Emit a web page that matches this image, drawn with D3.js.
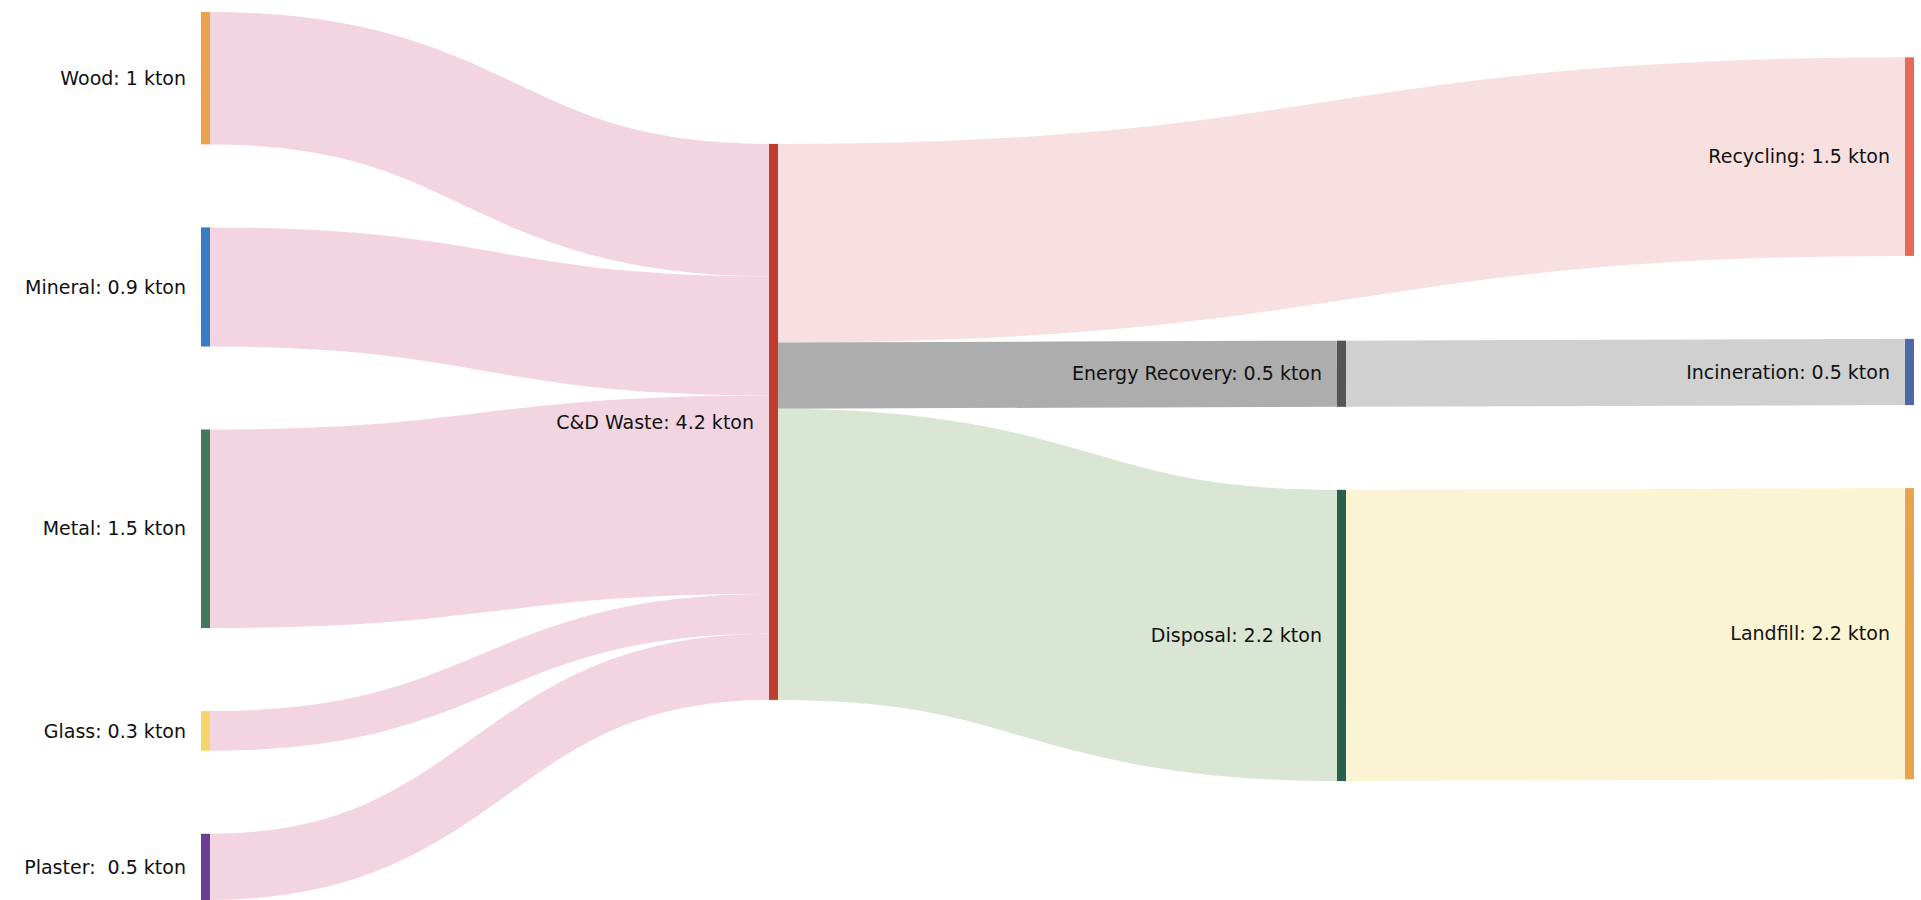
<!DOCTYPE html>
<html>
  <head>
    <title>C&amp;D waste sankey</title>
    <meta charset="utf-8">
    <style>
      body {
        padding: 0;
        margin: 0;
        background: #fff;
      }
      svg text {
        font-family: 'DejaVu Sans', sans-serif;
        font-size: 19px;
        fill: #111;
        white-space: pre;
      }
    </style>
  </head>
  <body>
    <div id="chart"></div>
    <script src="https://d3js.org/d3.v7.min.js"></script>
    <script>
      // nodes
      var nodeNames = ["Wood", "Mineral", "Metal", "Glass", "Plaster", "C&D Waste",
                       "Recycling", "Energy Recovery", "Disposal", "Incineration", "Landfill"];
      var nodeLabels = ["Wood: 1 kton", "Mineral: 0.9 kton", "Metal: 1.5 kton", "Glass: 0.3 kton",
                        "Plaster:  0.5 kton", "C&D Waste: 4.2 kton", "Recycling: 1.5 kton",
                        "Energy Recovery: 0.5 kton", "Disposal: 2.2 kton", "Incineration: 0.5 kton",
                        "Landfill: 2.2 kton"];
      // links (kton)
      var linkSources = ["Wood", "Mineral", "Metal", "Glass", "Plaster",
                         "C&D Waste", "C&D Waste", "C&D Waste", "Energy Recovery", "Disposal"];
      var linkTargets = ["C&D Waste", "C&D Waste", "C&D Waste", "C&D Waste", "C&D Waste",
                         "Recycling", "Energy Recovery", "Disposal", "Incineration", "Landfill"];
      var linkValues = [1, 0.9, 1.5, 0.3, 0.5, 1.5, 0.5, 2.2, 0.5, 2.2];

      // colours
      var nodeColors = ["#e9a34c", "#3b7bc6", "#3f7a5c", "#f6d66a", "#6c3f92", "#c13e2e",
                        "#e8695a", "#555555", "#285f4d", "#4b6aa8", "#e9a34c"];
      var linkColors = ["#f3d5e1", "#f3d5e1", "#f3d5e1", "#f3d5e1", "#f3d5e1",
                        "#f9e0e0", "#adadad", "#d9e6d3", "#d0d0d0", "#fbf4d3"];

      var width = 1921, height = 900;
      var extent = {x0: 201, y0: 12, x1: 1914, y1: 900},
          nodeWidth = 9,
          nodePadding = 83,
          iterations = 6;

      var svg = d3.select("#chart").append("svg")
                  .attr("width", width)
                  .attr("height", height);

      // --- small sankey layout (same steps as d3-sankey) ---
      var nodes = nodeNames.map((name, i) => ({name: name, index: i, sourceLinks: [], targetLinks: []}));
      var byName = new Map(nodes.map(n => [n.name, n]));
      var links = linkValues.map((v, i) => {
        var l = {index: i, value: v, source: byName.get(linkSources[i]), target: byName.get(linkTargets[i])};
        l.source.sourceLinks.push(l);
        l.target.targetLinks.push(l);
        return l;
      });

      nodes.forEach(n => {
        n.value = Math.max(d3.sum(n.sourceLinks, l => l.value), d3.sum(n.targetLinks, l => l.value));
      });

      // depths, sinks justified to the last column
      var current = new Set(nodes), next = new Set(), depth = 0;
      while (current.size) {
        current.forEach(n => {
          n.depth = depth;
          n.sourceLinks.forEach(l => next.add(l.target));
        });
        depth++;
        current = next;
        next = new Set();
      }
      var nLayers = d3.max(nodes, n => n.depth) + 1;
      nodes.forEach(n => { n.layer = n.sourceLinks.length ? n.depth : nLayers - 1; });

      var x = d3.scaleLinear()
                .domain([0, nLayers - 1])
                .range([extent.x0, extent.x1 - nodeWidth]);
      nodes.forEach(n => { n.x0 = x(n.layer); n.x1 = n.x0 + nodeWidth; });

      var columns = d3.range(nLayers).map(i => nodes.filter(n => n.layer === i));
      var py = Math.min(nodePadding, (extent.y1 - extent.y0) / (d3.max(columns, c => c.length) - 1));
      var ky = d3.min(columns, c => (extent.y1 - extent.y0 - (c.length - 1) * py) / d3.sum(c, n => n.value));
      var y = d3.scaleLinear().domain([0, 1]).range([0, ky]);

      var bySourceY = (a, b) => (a.source.y0 - b.source.y0) || (a.index - b.index);
      var byTargetY = (a, b) => (a.target.y0 - b.target.y0) || (a.index - b.index);
      var byY = (a, b) => a.y0 - b.y0;

      function reorderLinks(list) {
        list.forEach(n => { n.sourceLinks.sort(byTargetY); n.targetLinks.sort(bySourceY); });
      }
      function reorderNodeLinks(n) {
        n.targetLinks.forEach(l => l.source.sourceLinks.sort(byTargetY));
        n.sourceLinks.forEach(l => l.target.targetLinks.sort(bySourceY));
      }

      links.forEach(l => { l.width = y(l.value); });
      columns.forEach(col => {
        var yy = extent.y0;
        col.forEach(n => {
          n.y0 = yy;
          n.y1 = yy + y(n.value);
          yy = n.y1 + py;
        });
        yy = (extent.y1 - yy + py) / (col.length + 1);
        col.forEach((n, i) => { n.y0 += yy * (i + 1); n.y1 += yy * (i + 1); });
        reorderLinks(col);
      });

      function sourceTop(source, target) {
        var yy = target.y0 - (target.targetLinks.length - 1) * py / 2;
        for (var l of target.targetLinks) { if (l.source === source) break; yy += l.width + py; }
        for (var l of source.sourceLinks) { if (l.target === target) break; yy -= l.width; }
        return yy;
      }
      function targetTop(source, target) {
        var yy = source.y0 - (source.sourceLinks.length - 1) * py / 2;
        for (var l of source.sourceLinks) { if (l.target === target) break; yy += l.width + py; }
        for (var l of target.targetLinks) { if (l.source === source) break; yy -= l.width; }
        return yy;
      }
      function topToBottom(col, yy, i, a) {
        for (; i < col.length; ++i) {
          var n = col[i], dy = (yy - n.y0) * a;
          if (dy > 1e-6) { n.y0 += dy; n.y1 += dy; }
          yy = n.y1 + py;
        }
      }
      function bottomToTop(col, yy, i, a) {
        for (; i >= 0; --i) {
          var n = col[i], dy = (n.y1 - yy) * a;
          if (dy > 1e-6) { n.y0 -= dy; n.y1 -= dy; }
          yy = n.y0 - py;
        }
      }
      function resolveCollisions(col, a) {
        var i = col.length >> 1, s = col[i];
        bottomToTop(col, s.y0 - py, i - 1, a);
        topToBottom(col, s.y1 + py, i + 1, a);
        bottomToTop(col, extent.y1, col.length - 1, a);
        topToBottom(col, extent.y0, 0, a);
      }

      for (var it = 0; it < iterations; ++it) {
        var alpha = Math.pow(0.99, it),
            beta = Math.max(1 - alpha, (it + 1) / iterations);
        // right to left
        for (var c = columns.length - 2; c >= 0; --c) {
          columns[c].forEach(src => {
            var sy = 0, w = 0;
            src.sourceLinks.forEach(l => {
              var v = l.value * (l.target.layer - src.layer);
              sy += sourceTop(src, l.target) * v;
              w += v;
            });
            if (!(w > 0)) return;
            var dy = (sy / w - src.y0) * alpha;
            src.y0 += dy; src.y1 += dy;
            reorderNodeLinks(src);
          });
          columns[c].sort(byY);
          resolveCollisions(columns[c], beta);
        }
        // left to right
        for (var c = 1; c < columns.length; ++c) {
          columns[c].forEach(tgt => {
            var ty = 0, w = 0;
            tgt.targetLinks.forEach(l => {
              var v = l.value * (tgt.layer - l.source.layer);
              ty += targetTop(l.source, tgt) * v;
              w += v;
            });
            if (!(w > 0)) return;
            var dy = (ty / w - tgt.y0) * alpha;
            tgt.y0 += dy; tgt.y1 += dy;
            reorderNodeLinks(tgt);
          });
          columns[c].sort(byY);
          resolveCollisions(columns[c], beta);
        }
      }

      // link breadths
      nodes.forEach(n => { n.sourceLinks.sort(byTargetY); n.targetLinks.sort(bySourceY); });
      nodes.forEach(n => {
        var y0 = n.y0, y1 = y0;
        n.sourceLinks.forEach(l => { l.y0 = y0 + l.width / 2; y0 += l.width; });
        n.targetLinks.forEach(l => { l.y1 = y1 + l.width / 2; y1 += l.width; });
      });

      // --- draw ---
      var linkPath = d3.linkHorizontal()
                       .source(d => [d.source.x1, d.y0])
                       .target(d => [d.target.x0, d.y1]);

      svg.append("g")
          .attr("fill", "none")
        .selectAll("path")
        .data(links)
        .enter().append("path")
          .attr("d", linkPath)
          .attr("stroke", d => linkColors[d.index])
          .attr("stroke-width", d => Math.max(1, d.width));

      svg.append("g")
        .selectAll("rect")
        .data(nodes)
        .enter().append("rect")
          .attr("x", d => d.x0)
          .attr("y", d => d.y0)
          .attr("width", d => d.x1 - d.x0)
          .attr("height", d => d.y1 - d.y0)
          .attr("fill", d => nodeColors[d.index]);

      svg.append("g")
        .selectAll("text")
        .data(nodes)
        .enter().append("text")
          .attr("x", d => d.x0 - 15)
          .attr("y", d => (d.y0 + d.y1) / 2)
          .attr("dy", "0.35em")
          .attr("text-anchor", "end")
          .text(d => nodeLabels[d.index]);
    </script>
  </body>
</html>
